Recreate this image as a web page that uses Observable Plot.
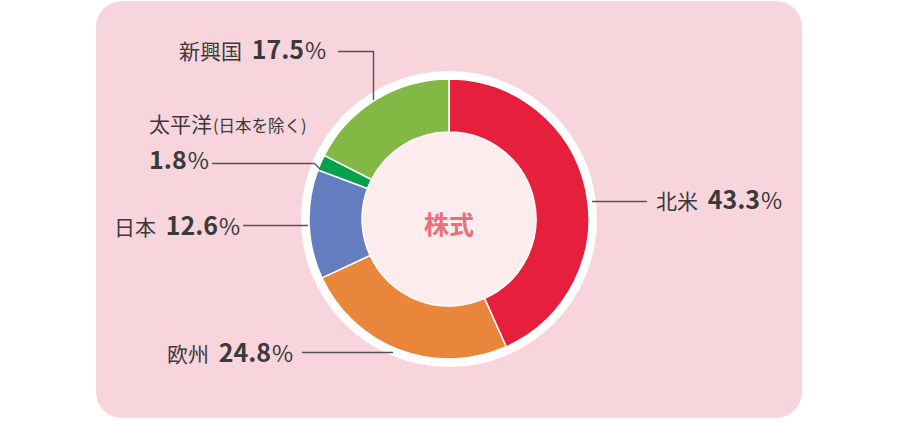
<!DOCTYPE html>
<html>
<head>
<meta charset="utf-8">
<script src="https://cdn.jsdelivr.net/npm/d3@7"></script>
<script src="https://cdn.jsdelivr.net/npm/@observablehq/plot@0.6"></script>
<style>
  html, body { margin: 0; padding: 0; background: #ffffff; }
  svg { display: block; }
</style>
</head>
<body>
<div id="chart"></div>
<script>
// ---- data ----
const regions = ["北米", "欧州", "日本", "太平洋", "新興国"];
const shares = [43.3, 24.8, 12.6, 1.8, 17.5];
const notes = ["", "", "", "(日本を除く)", ""];
const centerLabel = "株式";

// ---- styles / layout ----
const colors = ["#e61f3d", "#ea863b", "#647cc0", "#05a24b", "#82b844"];
const W = 901, H = 423;
const panel = [{x1: 96, x2: 802, y1: 1, y2: 418}];
const donut = {cx: 449, cy: 219, outer: 140, inner: 87, ring: 148};
// label anchors (start x, baseline y); 太平洋 has the share on a second line
const labelX = [656, 167, 114, 149, 179];
const labelY = [209, 362, 235, 132, 59];
const shareLineY = [null, null, null, 169, null];
// leader polylines
const leaders = [
  [[592, 201], [646, 201]],
  [[302, 352], [392, 352]],
  [[243, 225], [307, 225]],
  [[212, 163], [314, 163], [319, 168]],
  [[338, 51], [373, 51], [373, 99]]
];
const leaderRows = leaders.flatMap((pts, i) => pts.map(([x, y]) => ({i, x, y})));

const data = regions.map((r, i) => ({region: r, share: shares[i], note: notes[i], color: colors[i]}));

function donutMark(index, scales) {
  const {x, y} = scales;
  const cx = x(donut.cx), cy = y(donut.cy);
  const g = d3.create("svg:g").attr("transform", `translate(${cx},${cy})`);
  g.append("circle").attr("r", donut.ring).attr("fill", "#ffffff");
  g.append("circle").attr("r", donut.inner).attr("fill", "#fdeced");
  const pie = d3.pie().sort(null).value(d => d.share).startAngle(0).endAngle(2 * Math.PI);
  const arc = d3.arc().innerRadius(donut.inner).outerRadius(donut.outer);
  g.selectAll("path.slice").data(pie(data)).join("path")
    .attr("d", arc)
    .attr("fill", d => d.data.color)
    .attr("stroke", "#ffffff")
    .attr("stroke-width", 1.5)
    .attr("stroke-linejoin", "miter");
  g.append("text")
    .attr("text-anchor", "middle")
    .attr("dy", "0.36em")
    .attr("y", 6)
    .attr("font-family", "'Noto Sans CJK JP', sans-serif")
    .attr("font-weight", 700)
    .attr("font-size", 25)
    .attr("fill", "#e86f7b")
    .text(centerLabel);
  return g.node();
}

function labelMark(index, scales) {
  const {x, y} = scales;
  const g = d3.create("svg:g")
    .attr("font-family", "'Noto Sans CJK JP', sans-serif")
    .attr("text-anchor", "start")
    .attr("fill", "#3a3a3a");
  data.forEach((d, i) => {
    const t = g.append("text").attr("x", x(labelX[i])).attr("y", y(labelY[i]));
    t.append("tspan").attr("font-size", 21).text(d.region);
    if (d.note) {
      t.append("tspan").attr("font-size", 16.5).attr("dx", 1).text(d.note);
    }
    let t2 = t;
    let dx = 0;
    if (shareLineY[i] != null) {
      t2 = g.append("text").attr("x", x(labelX[i])).attr("y", y(shareLineY[i]));
    } else {
      t2.append("tspan").attr("font-size", 21).text(" ");
      dx = 5;
    }
    t2.append("tspan").attr("font-size", 25).attr("font-weight", 700).attr("dx", dx).text(d.share.toFixed(1));
    t2.append("tspan").attr("font-size", 23).attr("dx", 1).text("%");
  });
  return g.node();
}

const chart = Plot.plot({
  width: W,
  height: H,
  margin: 0,
  x: {domain: [0, W], range: [0, W], axis: null},
  y: {domain: [0, H], range: [0, H], axis: null},
  marks: [
    Plot.rect(panel, {x1: "x1", x2: "x2", y1: "y1", y2: "y2", fill: "#f8d4dd", rx: 26}),
    donutMark,
    Plot.line(leaderRows, {x: "x", y: "y", z: "i", stroke: "#555555", strokeWidth: 1.4, curve: "linear"}),
    labelMark
  ]
});
document.getElementById("chart").appendChild(chart);
</script>
</body>
</html>
